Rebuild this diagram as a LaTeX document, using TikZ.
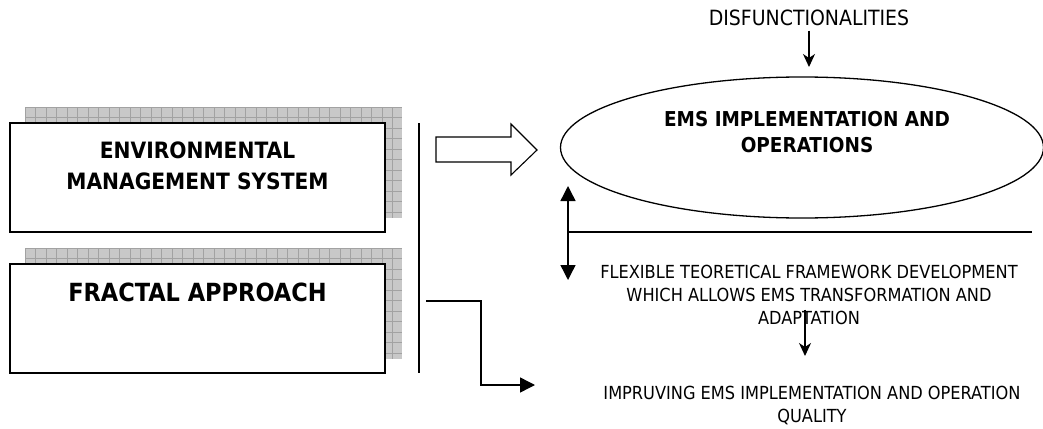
\documentclass[tikz,border=0pt]{standalone}
\usepackage{fontspec}
\setmainfont{DejaVu Sans Condensed}
\usepackage{tikz}
\usetikzlibrary{arrows.meta,positioning,shapes.geometric,backgrounds,calc}
\definecolor{shadegray}{HTML}{C8C8C8}
\definecolor{gridgray}{HTML}{A2A2A2}
\tikzset{
  frame/.style={draw,line width=1.6pt,fill=white,minimum width=375pt,minimum height=109pt,inner sep=0pt},
  shadowfill/.style={fill=shadegray},
  shadowgrid/.style={draw=gridgray,line width=0.6pt},
  boxhead/.style={font=\bfseries\fontsize{22.5}{31}\selectfont,align=center,inner sep=0pt},
  bighead/.style={font=\bfseries\fontsize{25}{31}\selectfont,align=center,inner sep=0pt},
  ovalhead/.style={font=\bfseries\fontsize{20.5}{26}\selectfont,align=center,inner sep=0pt},
  plain/.style={font=\fontsize{18}{23}\selectfont,align=center,inner sep=0pt},
  toplabel/.style={font=\fontsize{21}{25}\selectfont,inner sep=0pt},
  ln/.style={line width=1.4pt},
  smallar/.style={line width=1.2pt,-{Stealth[length=13pt,width=12pt,inset=4pt]}},
  bigar/.style={line width=1.4pt,-{Triangle[length=15pt,width=15pt]}},
  dblar/.style={line width=1.4pt,{Triangle[length=15pt,width=15pt]}-{Triangle[length=15pt,width=15pt]}},
}

\begin{document}
\begin{tikzpicture}[x=1pt,y=-1pt]
  \useasboundingbox (0,0) rectangle (1043,428);
  % left boxes
  \node[frame] (ems) at (197.5,177.5) {};
  \node[frame] (fractal) at (197.5,318.5) {};
  \node[boxhead] (emstext) at ($(ems.north)+(0,44)$) {ENVIRONMENTAL\\MANAGEMENT SYSTEM};
  \node[bighead] (fractext) at ($(fractal.north)+(0,29)$) {FRACTAL APPROACH};
  \begin{scope}[on background layer]
    \foreach \b in {ems,fractal}{
      \fill[shadowfill] ($(\b.south west)+(16,-15)$) rectangle ($(\b.north east)+(16,-15)$);
      \begin{scope}
        \clip ($(\b.south west)+(16,-15)$) rectangle ($(\b.north east)+(16,-15)$);
        \foreach \i in {0,...,36}
          \draw[shadowgrid] ($(\b.north west)+(16+\i*10.5,-15)$) -- ($(\b.south west)+(16+\i*10.5,-15)$);
        \foreach \j in {0,...,10}
          \draw[shadowgrid] ($(\b.north west)+(16,-15+\j*10.5)$) -- ($(\b.north east)+(16,-15+\j*10.5)$);
      \end{scope}
    }
  \end{scope}
  % separator
  \coordinate (septop) at (419,123);
  \coordinate (sepbot) at (419,373);
  \draw[ln] (septop) -- (sepbot);
  % block arrow
  \draw[line width=1.1pt] (436,137) -- (511,137) -- (511,124) -- (537,150) -- (511,175) -- (511,162) -- (436,162) -- cycle;
  % ellipse
  \node[ellipse,draw,line width=1.3pt,minimum width=483pt,minimum height=141pt] (emsop) at (802,147.5) {};
  \node[ovalhead] (emsoptext) at (807,132) {EMS IMPLEMENTATION AND\\OPERATIONS};
  \node[toplabel] (disf) at (809,18) {DISFUNCTIONALITIES};
  \coordinate (disfend) at (809,67);
  \draw[smallar] ($(disf.base)+(0,5)$) -- (disfend);
  % feedback
  \coordinate (fbtop) at (568,186);
  \coordinate (fbbot) at (568,280);
  \coordinate (fbend) at (1032,232);
  \draw[dblar] (fbtop) -- (fbbot);
  \draw[ln] (fbtop |- fbend) -- (fbend);
  \node[plain] (flex) at (809,294.5) {FLEXIBLE TEORETICAL FRAMEWORK DEVELOPMENT\\WHICH ALLOWS EMS TRANSFORMATION AND\\ADAPTATION};
  \node[plain] (impr) at (812,405.5) {IMPRUVING EMS IMPLEMENTATION AND OPERATION\\QUALITY};
  \coordinate (flexend) at (805,356);
  \draw[smallar] (flex.south -| flexend) ++(0,-15) -- (flexend);
  % fractal path
  \coordinate (elbstart) at (426,301);
  \coordinate (elbend) at (535,385);
  \draw[bigar] (elbstart) -- (481,301) |- (elbend);
\end{tikzpicture}
\end{document}
